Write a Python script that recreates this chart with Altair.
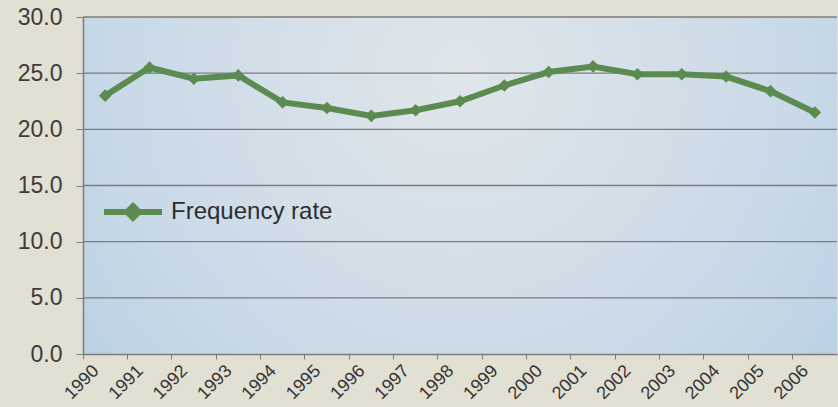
import altair as alt
import pandas as pd

years = ["1990", "1991", "1992", "1993", "1994", "1995", "1996", "1997", "1998",
         "1999", "2000", "2001", "2002", "2003", "2004", "2005", "2006"]
rates = [23.0, 25.5, 24.5, 24.8, 22.4, 21.9, 21.2, 21.7, 22.5,
         23.9, 25.1, 25.6, 24.9, 24.9, 24.7, 23.4, 21.5]
series_name = "Frequency rate"
y_ticks = [0, 5, 10, 15, 20, 25, 30]
grid_values = [5, 10, 15, 20, 25, 30]

df = pd.DataFrame({"year": years, "rate": rates, "series": [series_name] * len(years)})
grid_df = pd.DataFrame({"rate": grid_values})

W, H = 754, 337
GREEN = "#5b8b50"
FONT = "Liberation Sans"
GRID = "#7d7d7d"

x_enc = alt.X("year:O", sort=years,
              scale=alt.Scale(type="band", paddingInner=0, paddingOuter=0),
              axis=alt.Axis(title=None, bandPosition=0, labelAngle=315, labelAlign="right",
                            labelBaseline="middle", labelOffset=-9, labelPadding=9,
                            labelFontSize=18, labelFont=FONT, labelColor="#333333",
                            tickSize=5, tickColor=GRID, domainColor=GRID, domainWidth=1.5,
                            grid=False, zindex=1))
y_scale = alt.Scale(domain=[0, 30], nice=False, zero=True)
y_axis = alt.Axis(title=None, values=y_ticks, format=".1f", tickSize=7,
                  tickColor=GRID, domainColor=GRID, domainWidth=1.5,
                  labelFontSize=23, labelFont=FONT, labelColor="#3c3c3c",
                  labelPadding=14, grid=False, zindex=1)
y_enc = alt.Y("rate:Q", scale=y_scale, axis=y_axis)

bg = alt.Chart(alt.Data(values=[{}])).mark_rect(
    fill=alt.RadialGradient(
        gradient="radial",
        stops=[alt.GradientStop(offset=0, color="#e0e6ea"),
               alt.GradientStop(offset=0.5, color="#ccdbe8"),
               alt.GradientStop(offset=1, color="#b0cae3")],
        x1=0.5, y1=0.35, r1=0, x2=0.5, y2=0.35, r2=0.8),
).encode(x=alt.value(0), x2=alt.value(W), y=alt.value(0), y2=alt.value(H))

grid = alt.Chart(grid_df).mark_rule(color=GRID, strokeWidth=1.4).encode(
    y=alt.Y("rate:Q", scale=y_scale, axis=y_axis),
    x=alt.value(0), x2=alt.value(W))

line = alt.Chart(df).mark_line(
    strokeWidth=6,
    point=alt.OverlayMarkDef(shape="diamond", filled=True, size=160, color=GREEN, opacity=1),
).encode(
    x=x_enc, y=y_enc,
    color=alt.Color("series:N", scale=alt.Scale(range=[GREEN]),
                    legend=alt.Legend(title=None, orient="none", legendX=18, legendY=163,
                                      symbolType="M-1,0L1,0M0,-0.2L0.2,0L0,0.2L-0.2,0Z",
                                      symbolSize=3364, symbolStrokeWidth=6,
                                      symbolStrokeColor=GREEN, symbolFillColor=GREEN,
                                      symbolOpacity=1, labelLimit=400,
                                      labelFontSize=24, labelFont=FONT, labelColor="#2e2e2e",
                                      labelOffset=6)),
)

chart = alt.layer(bg, grid, line).properties(
    width=W, height=H, autosize="none",
    padding={"left": 83, "top": 17, "right": 1, "bottom": 53},
    background="#e2dfd3",
).configure_view(stroke=None)

chart.save("out.html", embed_options={"renderer": "svg", "actions": False})
